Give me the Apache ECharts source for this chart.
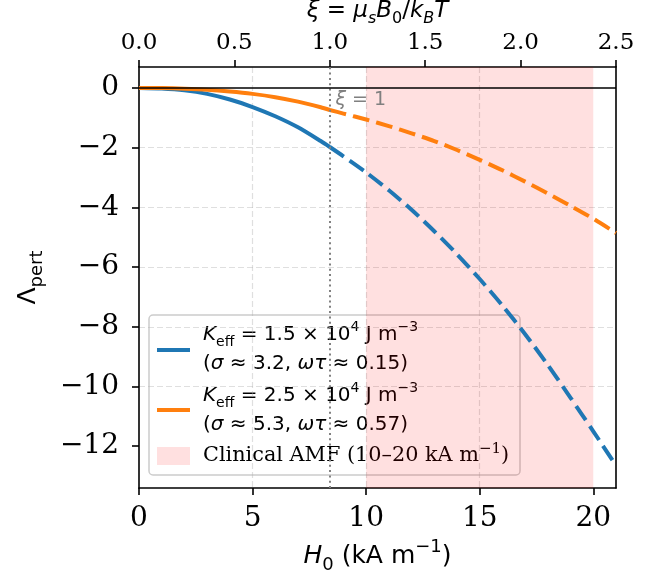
<!DOCTYPE html>
<html><head><meta charset="utf-8">
<script src="https://cdn.jsdelivr.net/npm/echarts@6.0.0/dist/echarts.min.js"></script>
<style>html,body{margin:0;padding:0;background:#fff}#c{width:665px;height:577px}</style>
</head><body><div id="c"></div>
<script>
// ---- data ----
const H0 = [0, 1, 2, 3, 4, 5, 6, 7, 8, 8.4, 9, 10, 11, 12, 13, 14, 15, 16, 17, 18, 19, 20, 21];
const LAMBDA_K15 = [0, -0.02, -0.08, -0.2, -0.39, -0.64, -0.95, -1.32, -1.78, -1.98, -2.29, -2.83, -3.43, -4.08, -4.8, -5.57, -6.4, -7.29, -8.25, -9.28, -10.38, -11.5, -12.65];
const LAMBDA_K25 = [0, -0.005, -0.025, -0.06, -0.12, -0.2, -0.31, -0.46, -0.65, -0.74, -0.86, -1.06, -1.28, -1.52, -1.78, -2.08, -2.41, -2.76, -3.14, -3.54, -3.95, -4.38, -4.86];
const XI1_H = 8.4;            // H0 where xi = 1
const H_MAX = 21;
const AMF_RANGE = [10, 20];
const X_TICKS = [0, 5, 10, 15, 20];
const Y_TICKS = [-12, -10, -8, -6, -4, -2, 0];
const Y_RANGE = [-13.4, 0.7];
const NAME_K15 = 'Keff = 1.5e4 J/m3 (sigma 3.2, omega tau 0.15)';
const NAME_K25 = 'Keff = 2.5e4 J/m3 (sigma 5.3, omega tau 0.57)';
const NAME_AMF = 'Clinical AMF (10–20 kA m−1)';
const LEGEND_LABELS = [
  '{i|K}{sub|eff}{n| = 1.5 × 10}{sup|4}{n| J m}{sup|\u22123}\n{n|(}{i|σ}{n| ≈ 3.2, }{i|ωτ}{n| ≈ 0.15)}',
  '{i|K}{sub|eff}{n| = 2.5 × 10}{sup|4}{n| J m}{sup|\u22123}\n{n|(}{i|σ}{n| ≈ 5.3, }{i|ωτ}{n| ≈ 0.57)}',
  '{s|Clinical AMF (10–20 kA m}{ssup|\u22121}{s|)}'
];

const SANS = 'DejaVu Sans', SERIF = 'DejaVu Serif';
const BLUE = '#1f77b4', ORANGE = '#ff7f0e', PINK = 'rgba(255,0,0,0.12)';

function pairs(vals, keep) {
  const out = [];
  H0.forEach((h, i) => { if (keep(h)) out.push([h, vals[i]]); });
  return out;
}
const solid = h => h <= XI1_H, dashed = h => h >= XI1_H;
const fmtNum = v => (v < 0 ? '\u2212' + Math.abs(v) : String(v));

function mathRich(size, serifSize) {
  const s = Math.round(size * 0.7);
  const ss = serifSize || size;
  return {
    n: {fontFamily: SANS, fontSize: size, lineHeight: Math.round(size * 1.45), color: '#000'},
    i: {fontFamily: SANS, fontStyle: 'italic', fontSize: size, lineHeight: Math.round(size * 1.45), color: '#000'},
    sub: {fontFamily: SANS, fontSize: s, lineHeight: Math.round(size * 0.9), verticalAlign: 'bottom', color: '#000'},
    isub: {fontFamily: SANS, fontStyle: 'italic', fontSize: s, lineHeight: Math.round(size * 0.9), verticalAlign: 'bottom', color: '#000'},
    sup: {fontFamily: SANS, fontSize: s, lineHeight: Math.round(size * 0.85), verticalAlign: 'top', color: '#000'},
    s: {fontFamily: SERIF, fontSize: ss, lineHeight: Math.round(size * 1.45), color: '#000'},
    ssup: {fontFamily: SERIF, fontSize: Math.round(ss * 0.7), lineHeight: Math.round(size * 0.85), verticalAlign: 'top', color: '#000'}
  };
}

const chart = echarts.init(document.getElementById('c'), null, {renderer: 'canvas'});
const splitStyle = {show: true, showMinLine: false, showMaxLine: false,
  lineStyle: {color: 'rgba(176,176,176,0.4)', type: [6, 3], width: 1.2}};
const axisLineStyle = {show: true, onZero: false, lineStyle: {color: '#000', width: 1.6}};
const tickStyle = {show: true, inside: false, length: 7, lineStyle: {color: '#000', width: 1.6}};

// legend drawn as a boxed key
const legendRich = mathRich(20, 20.8);
const LEG = {x: 149, y: 315, w: 371, h: 160, iconX: 157, iconW: 33, textX: 203, rows: [349, 410, 456]};
const legendGraphic = {
  type: 'group', z: 10, silent: true,
  children: [
    {type: 'rect', shape: {x: LEG.x, y: LEG.y, width: LEG.w, height: LEG.h, r: 4},
     style: {fill: 'rgba(255,255,255,0.8)', stroke: '#cccccc', lineWidth: 1.5}},
    {type: 'line', shape: {x1: LEG.iconX, y1: 350, x2: LEG.iconX + LEG.iconW, y2: 350},
     style: {stroke: BLUE, lineWidth: 4}},
    {type: 'line', shape: {x1: LEG.iconX, y1: 410, x2: LEG.iconX + LEG.iconW, y2: 410},
     style: {stroke: ORANGE, lineWidth: 4}},
    {type: 'rect', shape: {x: LEG.iconX, y: 447, width: LEG.iconW, height: 18},
     style: {fill: PINK}},
    {type: 'text', style: {x: LEG.textX, y: LEG.rows[0], text: LEGEND_LABELS[0], rich: legendRich, verticalAlign: 'middle', align: 'left'}},
    {type: 'text', style: {x: LEG.textX, y: LEG.rows[1], text: LEGEND_LABELS[1], rich: legendRich, verticalAlign: 'middle', align: 'left'}},
    {type: 'text', style: {x: LEG.textX, y: LEG.rows[2], text: LEGEND_LABELS[2], rich: legendRich, verticalAlign: 'middle', align: 'left'}}
  ]
};

chart.setOption({
  animation: false,
  backgroundColor: '#fff',
  grid: {left: 139, right: 49, top: 67, bottom: 89, outerBoundsMode: 'none', containLabel: false},
  graphic: [legendGraphic],
  xAxis: [{
    type: 'value', position: 'bottom', min: 0, max: H_MAX, interval: 5,
    axisLine: axisLineStyle,
    axisTick: Object.assign({customValues: X_TICKS}, tickStyle),
    axisLabel: {customValues: X_TICKS, fontFamily: SERIF, fontSize: 28, color: '#000', margin: 17, formatter: fmtNum},
    splitLine: splitStyle,
    name: '{i|H}{sub|0}{n| (kA m}{sup|\u22121}{n|)}',
    nameLocation: 'middle', nameGap: 50,
    nameTextStyle: {rich: mathRich(25)}
  }, {
    type: 'value', position: 'top', min: 0, max: H_MAX / XI1_H, interval: 0.5,
    axisLine: axisLineStyle, axisTick: tickStyle,
    axisLabel: {fontFamily: SERIF, fontSize: 23, color: '#000', margin: 12, formatter: v => v.toFixed(1)},
    splitLine: {show: false},
    name: '{i|ξ}{n| = }{i|μ}{isub|s}{i|B}{sub|0}{n|/}{i|k}{isub|B}{i|T}',
    nameLocation: 'middle', nameGap: 25,
    nameTextStyle: {rich: mathRich(23)}
  }],
  yAxis: [{
    type: 'value', position: 'left', min: Y_RANGE[0], max: Y_RANGE[1], splitNumber: 7,
    axisLine: axisLineStyle,
    axisTick: Object.assign({customValues: Y_TICKS}, tickStyle),
    axisLabel: {customValues: Y_TICKS, fontFamily: SERIF, fontSize: 28, color: '#000', margin: 20, formatter: fmtNum},
    splitLine: splitStyle,
    name: '{n|Λ}{sub|pert}', nameLocation: 'middle', nameGap: 93, nameRotate: 90,
    nameTextStyle: {rich: mathRich(25)}
  }, {
    type: 'value', position: 'right', min: Y_RANGE[0], max: Y_RANGE[1],
    axisLine: axisLineStyle, axisTick: {show: false}, axisLabel: {show: false}, splitLine: {show: false}
  }],
  series: [
    {
      name: NAME_AMF, type: 'line', xAxisIndex: 0, yAxisIndex: 0, data: [], color: PINK, z: 1,
      markArea: {silent: true, itemStyle: {color: PINK}, data: [[{xAxis: AMF_RANGE[0]}, {xAxis: AMF_RANGE[1]}]]}
    },
    {
      name: NAME_K15, type: 'line', xAxisIndex: 0, yAxisIndex: 0, color: BLUE, z: 3,
      data: pairs(LAMBDA_K15, solid), showSymbol: false, smooth: 0.25,
      lineStyle: {width: 4, color: BLUE, cap: 'butt', join: 'round'},
      markLine: {
        silent: true, symbol: 'none', label: {show: false},
        data: [
          {xAxis: XI1_H, lineStyle: {color: '#808080', type: [2, 3.3], width: 2}},
          {yAxis: 0, lineStyle: {color: '#000', type: 'solid', width: 1.5}}
        ]
      },
      markPoint: {
        silent: true, symbol: 'circle', symbolSize: 0,
        data: [{coord: [XI1_H + 0.25, -0.4], value: 1}],
        label: {show: true, position: 'right', distance: 0,
          formatter: '{i|ξ}{n| = 1}',
          rich: {
            i: {fontFamily: SANS, fontStyle: 'italic', fontSize: 19, color: '#808080'},
            n: {fontFamily: SANS, fontSize: 19, color: '#808080'}
          }}
      }
    },
    {
      name: NAME_K15, type: 'line', xAxisIndex: 0, yAxisIndex: 0, color: BLUE, z: 3,
      data: pairs(LAMBDA_K15, dashed), showSymbol: false, smooth: 0.25,
      lineStyle: {width: 4, color: BLUE, type: [17, 7], join: 'round'}
    },
    {
      name: NAME_K25, type: 'line', xAxisIndex: 0, yAxisIndex: 0, color: ORANGE, z: 3,
      data: pairs(LAMBDA_K25, solid), showSymbol: false, smooth: 0.25,
      lineStyle: {width: 4, color: ORANGE, join: 'round'}
    },
    {
      name: NAME_K25, type: 'line', xAxisIndex: 0, yAxisIndex: 0, color: ORANGE, z: 3,
      data: pairs(LAMBDA_K25, dashed), showSymbol: false, smooth: 0.25,
      lineStyle: {width: 4, color: ORANGE, type: [17, 7], join: 'round'}
    }
  ]
});
</script></body></html>
